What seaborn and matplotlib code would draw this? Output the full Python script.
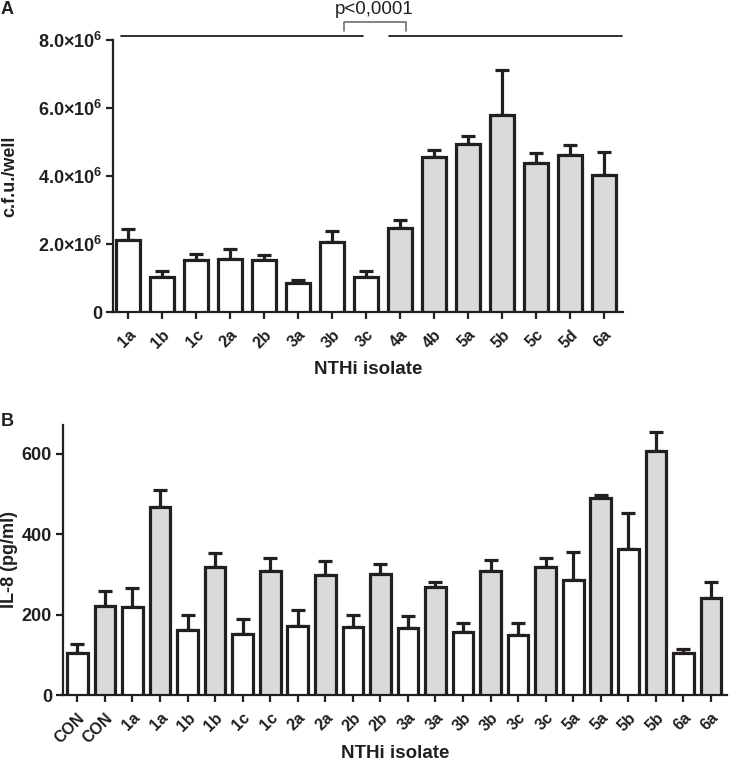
import numpy as np
import pandas as pd
import matplotlib
matplotlib.use("Agg")
import matplotlib.pyplot as plt
import seaborn as sns

# ---- Panel A data ----
a_labels = ["1a", "1b", "1c", "2a", "2b", "3a", "3b", "3c",
            "4a", "4b", "5a", "5b", "5c", "5d", "6a"]
a_means = [2.13e6, 1.03e6, 1.52e6, 1.55e6, 1.52e6, 0.855e6, 2.05e6, 1.03e6,
           2.47e6, 4.57e6, 4.96e6, 5.80e6, 4.40e6, 4.62e6, 4.04e6]
a_upper = [2.43e6, 1.20e6, 1.70e6, 1.86e6, 1.68e6, 0.93e6, 2.39e6, 1.21e6,
           2.71e6, 4.77e6, 5.19e6, 7.12e6, 4.68e6, 4.92e6, 4.70e6]
a_group = ["white"] * 8 + ["gray"] * 7
a_yticks = [0, 2e6, 4e6, 6e6, 8e6]
a_yticklabels = ["0",
                 r"$\mathbf{2.0}{\times}\mathbf{10^{6}}$",
                 r"$\mathbf{4.0}{\times}\mathbf{10^{6}}$",
                 r"$\mathbf{6.0}{\times}\mathbf{10^{6}}$",
                 r"$\mathbf{8.0}{\times}\mathbf{10^{6}}$"]

# ---- Panel B data ----
b_labels = ["CON", "CON", "1a", "1a", "1b", "1b", "1c", "1c", "2a", "2a",
            "2b", "2b", "3a", "3a", "3b", "3b", "3c", "3c", "5a", "5a",
            "5b", "5b", "6a", "6a"]
b_means = [105, 221, 220, 468, 163, 318, 151, 309, 171, 299,
           170, 300, 166, 269, 156, 308, 150, 318, 285, 491,
           363, 607, 105, 241]
b_upper = [127, 258, 266, 510, 198, 353, 190, 340, 211, 333,
           200, 325, 196, 282, 180, 336, 179, 342, 356, 497,
           454, 654, 115, 282]
b_group = ["white", "gray"] * 12
b_yticks = [0, 200, 400, 600]

DARK = "#231f20"
GRAY = "#d9dadb"
palette = {"white": "white", "gray": GRAY}

sns.set_theme(style="ticks")
plt.rcParams["font.family"] = ["Liberation Sans", "DejaVu Sans"]
plt.rcParams["font.weight"] = "bold"
plt.rcParams["mathtext.fontset"] = "custom"
plt.rcParams["mathtext.rm"] = "Liberation Sans"
plt.rcParams["mathtext.bf"] = "Liberation Sans:bold"

XTICK_FS = 11.5
YTICK_FS = 13
LAB_FS = 13.5
YLAB_FS = 13

fig = plt.figure(figsize=(7.29, 7.61), dpi=100)
axA = fig.add_axes([113 / 729, 1 - 312 / 761, 510 / 729, (312 - 40.3) / 761])
axB = fig.add_axes([63 / 729, 1 - 695 / 761, 663.7 / 729, 270 / 761])


def draw(ax, labels, means, upper, groups, width):
    df = pd.DataFrame({"pos": np.arange(len(labels)), "val": means, "grp": groups})
    sns.barplot(data=df, x="pos", y="val", hue="grp", palette=palette,
                dodge=False, legend=False, width=width, edgecolor=DARK,
                linewidth=2.3, ax=ax, errorbar=None, zorder=3)
    x = np.arange(len(labels))
    lo = np.zeros(len(labels))
    hi = np.array(upper) - np.array(means)
    ax.errorbar(x, means, yerr=[lo, hi], fmt="none", ecolor=DARK,
                elinewidth=2.3, capsize=5, capthick=2.3, zorder=2)
    ax.set_xticks(x)
    ax.set_xticklabels(labels, rotation=45, ha="right", rotation_mode="anchor",
                       fontsize=XTICK_FS, fontweight="bold", color=DARK)
    for s in ["top", "right"]:
        ax.spines[s].set_visible(False)
    for s in ["left", "bottom"]:
        ax.spines[s].set_linewidth(1.6)
        ax.spines[s].set_color(DARK)
    ax.tick_params(axis="both", direction="out", length=5, width=1.6,
                   color=DARK)
    ax.tick_params(axis="x", pad=6)
    ax.tick_params(axis="y", pad=3)
    ax.set_xlabel("NTHi isolate", fontsize=LAB_FS, fontweight="bold", color=DARK)


draw(axA, a_labels, a_means, a_upper, a_group, 0.69)
axA.set_xlim(-0.44, 14.56)
axA.set_ylim(0, 8e6)
axA.set_yticks(a_yticks)
axA.set_yticklabels(a_yticklabels, fontsize=YTICK_FS, fontweight="bold", color=DARK)
axA.set_ylabel("c.f.u./well", fontsize=YLAB_FS, fontweight="bold", color=DARK)
axA.yaxis.set_label_coords(-0.186, 0.5)
axA.xaxis.set_label_coords(0.5, -0.182)

draw(axB, b_labels, b_means, b_upper, b_group, 0.75)
axB.set_xlim(-0.52, 23.57)
axB.set_ylim(0, 672)
axB.set_yticks(b_yticks)
axB.set_yticklabels([str(v) for v in b_yticks], fontsize=YTICK_FS,
                    fontweight="bold", color=DARK)
axB.set_ylabel("IL-8 (pg/ml)", fontsize=YLAB_FS, fontweight="bold", color=DARK)
axB.yaxis.set_label_coords(-0.068, 0.5)
axB.xaxis.set_label_coords(0.5, -0.187)


def fx(px):
    return px / 729


def fy(py):
    return 1 - py / 761


ln = dict(color=DARK, lw=1.3, transform=fig.transFigure)
fig.add_artist(plt.Line2D([fx(121), fx(363)], [fy(35.7), fy(35.7)], **ln))
fig.add_artist(plt.Line2D([fx(389), fx(622)], [fy(35.7), fy(35.7)], **ln))
br = dict(color="#6d6e70", lw=1.2, transform=fig.transFigure)
fig.add_artist(plt.Line2D([fx(343.5), fx(343.5), fx(405.5), fx(405.5)],
                          [fy(31), fy(22), fy(22), fy(31)], **br))
fig.text(fx(374.5), fy(10), "p<0,0001", ha="center", va="center",
         fontsize=13.5, fontweight="normal", color=DARK)

fig.text(fx(1), fy(9), "A", ha="left", va="center", fontsize=13,
         fontweight="bold", color=DARK)
fig.text(fx(1), fy(421), "B", ha="left", va="center", fontsize=13,
         fontweight="bold", color=DARK)

fig.savefig("out.png", dpi=100)
